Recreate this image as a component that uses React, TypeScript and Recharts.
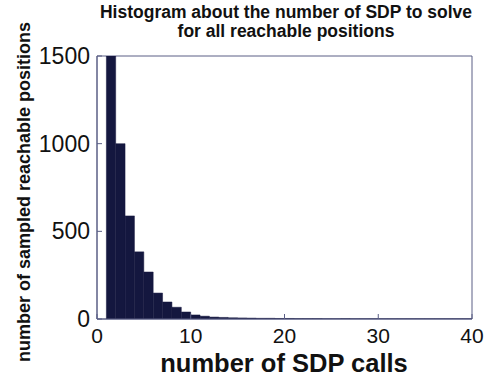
import React from 'react';
import { ComposedChart, Bar, XAxis, YAxis, ReferenceArea } from 'recharts';

const binStarts = [1,2,3,4,5,6,7,8,9,10,11,12,13,14,15,16,17,18,19,20,21,22,23,24,25,26,27,28,29,30,31,32,33,34,35,36,37,38,39];
const counts = [1500,1000,588,383,268,148,97,67,40,23,16,11,9,7,6,5,4,4,3,3,2,2,2,1,1,2,1,1,1,1,1,1,1,1,1,1,1,1,1];
const xTicks = [0,10,20,30,40];
const yTicks = [0,500,1000,1500];

const data = binStarts.map((s, i) => ({ x: s + 0.5, count: counts[i] }));

const font = '"Liberation Sans", Arial, Helvetica, sans-serif';
const barColor = '#14173f';
const axisColor = '#5a5e85';

export default function App() {
  return (
    <div style={{ position: 'absolute', left: 0, top: 0, width: 490, height: 379, background: '#fff', fontFamily: font }}>
      <ComposedChart width={490} height={379} data={data} margin={{ top: 56, right: 18, bottom: 0, left: 0 }} barGap={0}>
        <XAxis
          dataKey="x"
          type="number"
          domain={[0, 40]}
          ticks={xTicks}
          height={60}
          tickSize={-5}
          tickMargin={14}
          stroke={axisColor}
          tick={{ fill: '#111', fontSize: 21, fontFamily: font }}
          allowDataOverflow
        />
        <YAxis
          type="number"
          domain={[0, 1500]}
          ticks={yTicks}
          width={97}
          tickSize={-5}
          tickMargin={12}
          stroke={axisColor}
          tick={{ fill: '#111', fontSize: 23, fontFamily: font }}
          allowDataOverflow
        />
        <ReferenceArea x1={0} x2={40} y1={0} y2={1500} fill="none" stroke={axisColor} strokeWidth={1} ifOverflow="visible" />
        <Bar dataKey="count" fill={barColor} stroke={barColor} strokeWidth={0.5} barSize={9.3} isAnimationActive={false} />
      </ComposedChart>
      <div style={{ position: 'absolute', left: 0, width: 490, top: 3, paddingLeft: 96, boxSizing: 'border-box', fontWeight: 'bold', fontSize: 17.5, lineHeight: '19px', color: '#111' }}>
        <div style={{ width: 380, textAlign: 'center' }}>Histogram about the number of SDP to solve</div>
        <div style={{ width: 380, textAlign: 'center' }}>for all reachable positions</div>
      </div>
      <div style={{ position: 'absolute', left: 135, width: 298, top: 352.5, textAlign: 'center', fontWeight: 'bold', fontSize: 25.5, lineHeight: '20px', color: '#111', whiteSpace: 'nowrap' }}>
        number of SDP calls
      </div>
      <div style={{ position: 'absolute', left: 24, top: 192, width: 0, height: 0 }}>
        <div style={{ position: 'absolute', left: -200, top: -10, width: 400, textAlign: 'center', transform: 'rotate(-90deg)', fontWeight: 'bold', fontSize: 18, lineHeight: '20px', color: '#111', whiteSpace: 'nowrap' }}>
          number of sampled reachable positions
        </div>
      </div>
    </div>
  );
}
